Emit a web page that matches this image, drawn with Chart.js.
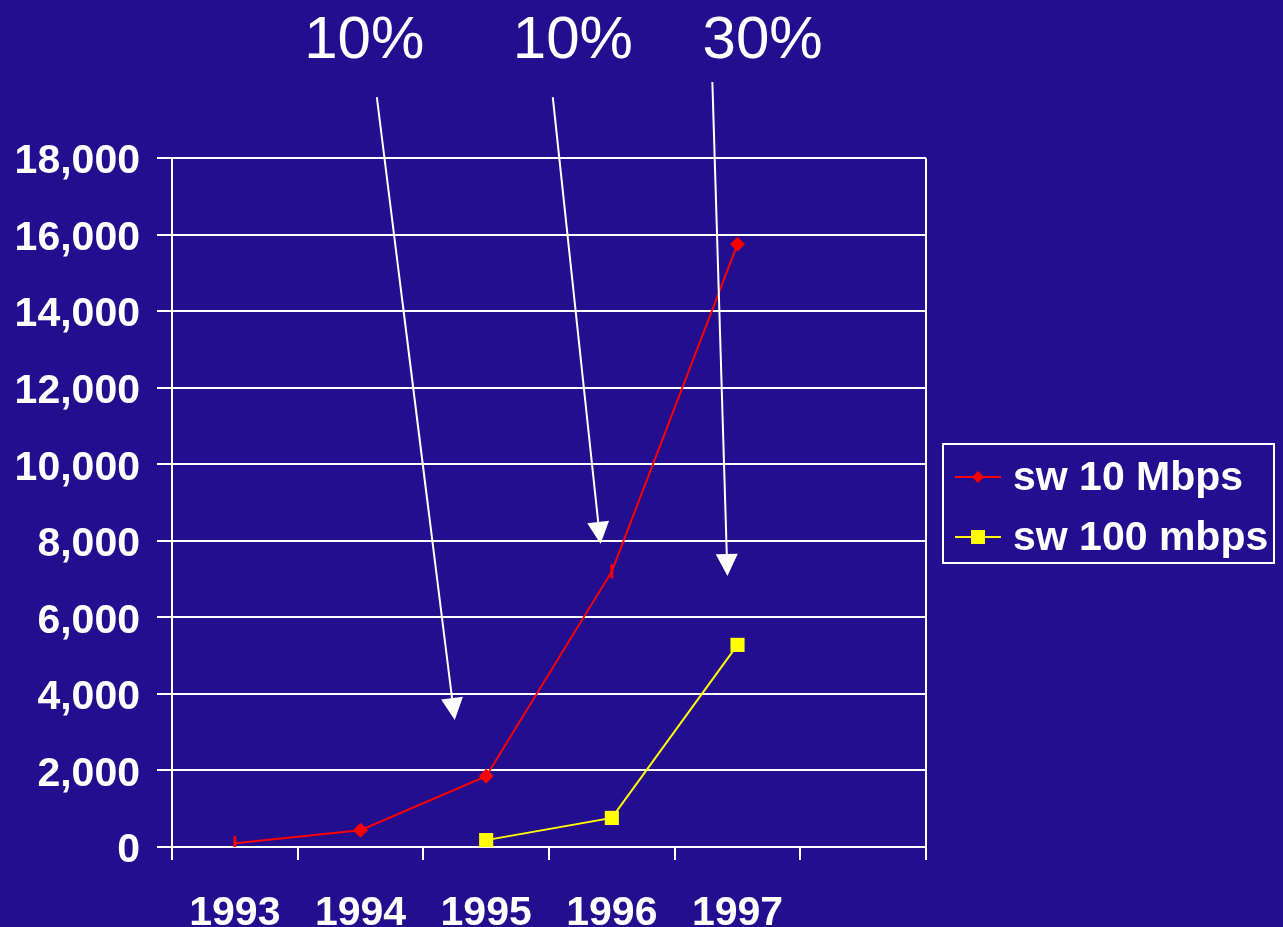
<!DOCTYPE html>
<html>
<head>
<meta charset="utf-8">
<script src="https://cdn.jsdelivr.net/npm/chart.js@4/dist/chart.umd.min.js"></script>
<style>
  html, body { margin: 0; padding: 0; background: #220e8e; }
  #wrap { width: 1283px; height: 927px; }
</style>
</head>
<body>
<div id="wrap"><canvas id="chart" width="1283" height="927"></canvas></div>
<script>
// data
const years = ["1993", "1994", "1995", "1996", "1997", ""];
const sw10 = [100, 440, 1850, 7200, 15750, null];
const sw100 = [null, null, 180, 760, 5280, null];
const yTicks = { min: 0, max: 18000, step: 2000 };

// arrows in data space: [categoryIndex, value]
const arrowLabels = ["10%", "10%", "30%"];
const arrowLabelPos = [[1.03, 21050], [2.69, 21050], [4.2, 21050]];
const arrowFrom = [[1.13, 19590], [2.53, 19590], [3.8, 19985]];
const arrowTo = [[1.75, 3320], [2.91, 7920], [3.92, 7080]];

const BG = "#220e8e";
const FONT = "'Liberation Sans', Arial, sans-serif";

const bgPlugin = {
  id: "bg",
  beforeDraw(chart) {
    const c = chart.ctx;
    c.save();
    c.fillStyle = BG;
    c.fillRect(0, 0, chart.width, chart.height);
    c.restore();
  },
};

// right frame line of plot area
const framePlugin = {
  id: "frame",
  beforeDatasetsDraw(chart) {
    const a = chart.chartArea;
    const c = chart.ctx;
    c.save();
    c.strokeStyle = "#ffffff";
    c.lineWidth = 2;
    c.beginPath();
    c.moveTo(a.right, a.top);
    c.lineTo(a.right, a.bottom);
    c.stroke();
    c.restore();
  },
};

const arrowPlugin = {
  id: "arrows",
  afterDatasetsDraw(chart) {
    const x = chart.scales.x, y = chart.scales.y, c = chart.ctx;
    c.save();
    c.strokeStyle = "#ffffff";
    c.fillStyle = "#ffffff";
    c.lineWidth = 2;
    for (let i = 0; i < arrowFrom.length; i++) {
      const x0 = x.getPixelForValue(arrowFrom[i][0]), y0 = y.getPixelForValue(arrowFrom[i][1]);
      const x1 = x.getPixelForValue(arrowTo[i][0]), y1 = y.getPixelForValue(arrowTo[i][1]);
      const ang = Math.atan2(y1 - y0, x1 - x0);
      const len = 22, half = 11;
      const bx = x1 - Math.cos(ang) * len, by = y1 - Math.sin(ang) * len;
      c.beginPath();
      c.moveTo(x0, y0);
      c.lineTo(bx, by);
      c.stroke();
      c.beginPath();
      c.moveTo(x1, y1);
      c.lineTo(bx + Math.sin(ang) * half, by - Math.cos(ang) * half);
      c.lineTo(bx - Math.sin(ang) * half, by + Math.cos(ang) * half);
      c.closePath();
      c.fill();
    }
    c.font = "60px " + FONT;
    c.textAlign = "center";
    c.textBaseline = "middle";
    arrowLabels.forEach((t, i) => {
      c.fillText(t, x.getPixelForValue(arrowLabelPos[i][0]), y.getPixelForValue(arrowLabelPos[i][1]));
    });
    c.restore();
  },
};

const legendPlugin = {
  id: "boxLegend",
  afterDraw(chart) {
    const a = chart.chartArea, c = chart.ctx;
    const left = a.right + 17, w = 331, h = 119;
    const top = (a.top + a.bottom) / 2 - h / 2 + 1;
    c.save();
    c.strokeStyle = "#ffffff";
    c.lineWidth = 2;
    c.strokeRect(left, top, w, h);
    c.font = "bold 41px " + FONT;
    c.textBaseline = "middle";
    c.textAlign = "left";
    chart.data.datasets.forEach((ds, i) => {
      const cy = top + 33 + i * 60;
      c.strokeStyle = ds.borderColor;
      c.fillStyle = ds.borderColor;
      c.lineWidth = 2;
      c.beginPath();
      c.moveTo(left + 12, cy);
      c.lineTo(left + 58, cy);
      c.stroke();
      const mx = left + 35;
      if (i === 0) {
        c.beginPath();
        c.moveTo(mx - 6, cy);
        c.lineTo(mx, cy - 6);
        c.lineTo(mx + 6, cy);
        c.lineTo(mx, cy + 6);
        c.closePath();
        c.fill();
      } else {
        c.fillRect(mx - 7, cy - 7, 14, 14);
      }
      c.fillStyle = "#ffffff";
      c.fillText(ds.label, left + 70, cy + 2);
    });
    c.restore();
  },
};

new Chart(document.getElementById("chart").getContext("2d"), {
  type: "line",
  data: {
    labels: years,
    datasets: [
      {
        label: "sw 10 Mbps",
        data: sw10,
        borderColor: "#ff0000",
        backgroundColor: "#ff0000",
        borderWidth: 2,
        tension: 0,
        pointStyle: ["line", "rectRot", "rectRot", "line", "rectRot", "rectRot"],
        pointRotation: [90, 0, 0, 90, 0, 0],
        pointRadius: 7,
        pointBorderWidth: [3, 1, 1, 3, 1, 1],
        pointBorderColor: "#ff0000",
        pointBackgroundColor: "#ff0000",
      },
      {
        label: "sw 100 mbps",
        data: sw100,
        borderColor: "#ffff00",
        backgroundColor: "#ffff00",
        borderWidth: 2,
        tension: 0,
        pointStyle: "rect",
        pointRadius: 10,
        pointBorderWidth: 0,
        pointBackgroundColor: "#ffff00",
      },
    ],
  },
  options: {
    responsive: false,
    animation: false,
    devicePixelRatio: 1,
    layout: { padding: { left: 0, top: 158, right: 357, bottom: 0 } },
    plugins: {
      legend: { display: false },
      tooltip: { enabled: false },
    },
    scales: {
      x: {
        type: "category",
        offset: true,
        grid: {
          offset: true,
          drawOnChartArea: false,
          drawTicks: true,
          tickLength: 13,
          color: "#ffffff",
          tickColor: "#ffffff",
          lineWidth: 2,
        },
        border: { display: true, color: "#ffffff", width: 2 },
        ticks: {
          color: "#ffffff",
          font: { family: FONT, size: 41, weight: "bold" },
          padding: 29,
          maxRotation: 0,
          autoSkip: false,
        },
        afterFit(s) { s.height = 80; },
      },
      y: {
        min: yTicks.min,
        max: yTicks.max,
        grid: {
          color: "#ffffff",
          tickColor: "#ffffff",
          lineWidth: 2,
          tickLength: 15,
        },
        border: { display: true, color: "#ffffff", width: 2 },
        ticks: {
          stepSize: yTicks.step,
          color: "#ffffff",
          padding: 17,
          labelOffset: 4,
          font: { family: FONT, size: 41, weight: "bold" },
          callback: (v) => v.toLocaleString("en-US"),
        },
        afterFit(s) { s.width = 172; },
      },
    },
  },
  plugins: [bgPlugin, framePlugin, arrowPlugin, legendPlugin],
});
</script>
</body>
</html>
